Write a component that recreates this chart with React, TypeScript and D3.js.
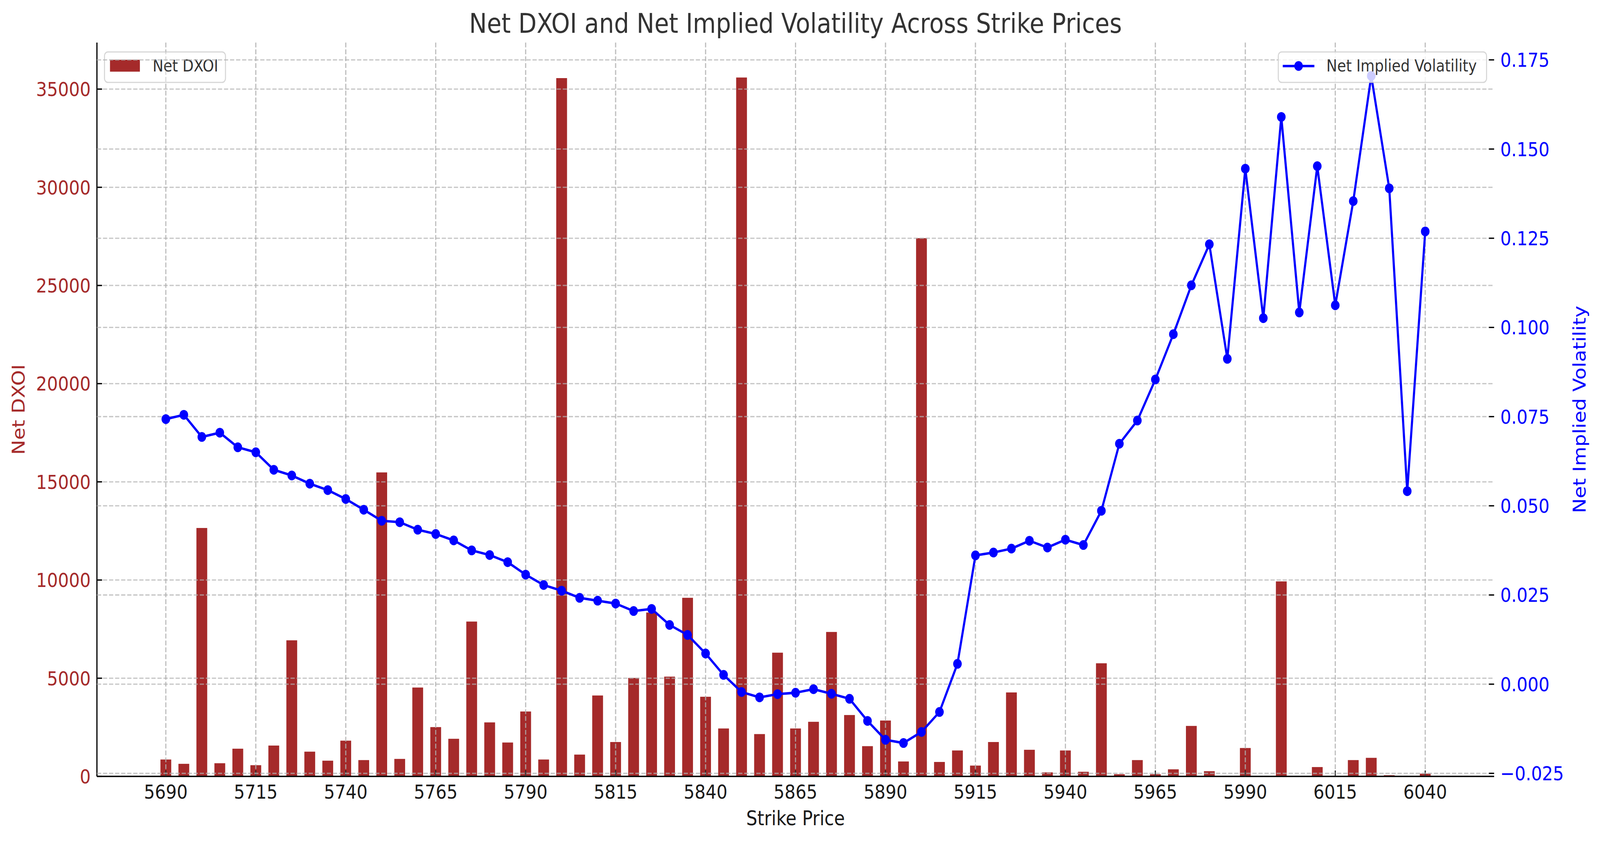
import React from "react";
import * as d3 from "d3";

const strikes = [
  5690, 5695, 5700, 5705, 5710, 5715, 5720, 5725, 5730, 5735,
  5740, 5745, 5750, 5755, 5760, 5765, 5770, 5775, 5780, 5785,
  5790, 5795, 5800, 5805, 5810, 5815, 5820, 5825, 5830, 5835,
  5840, 5845, 5850, 5855, 5860, 5865, 5870, 5875, 5880, 5885,
  5890, 5895, 5900, 5905, 5910, 5915, 5920, 5925, 5930, 5935,
  5940, 5945, 5950, 5955, 5960, 5965, 5970, 5975, 5980, 5985,
  5990, 5995, 6000, 6005, 6010, 6015, 6020, 6025, 6030, 6035, 6040,
];

const netDXOI = [
  860, 640, 12650, 670, 1410, 570, 1570, 6930, 1260, 800,
  1820, 830, 15480, 890, 4525, 2510, 1915, 7885, 2750, 1725,
  3305, 860, 35560, 1110, 4120, 1750, 5015, 8345, 5080, 9095,
  4055, 2440, 35590, 2155, 6300, 2440, 2780, 7355, 3125, 1540,
  2845, 760, 27410, 735, 1320, 550, 1750, 4275, 1355, 205,
  1320, 235, 5760, 110, 830, 110, 360, 2570, 265, 0,
  1445, 0, 9930, 0, 475, 0, 830, 945, 60, 0, 140,
];

const netIV = [
  0.0743, 0.0755, 0.0693, 0.0705, 0.0664, 0.065, 0.0601, 0.0585, 0.0562, 0.0544,
  0.0519, 0.0489, 0.0458, 0.0454, 0.0433, 0.0421, 0.0403, 0.0375, 0.0362, 0.0342,
  0.0307, 0.0278, 0.0262, 0.0242, 0.0234, 0.0226, 0.0205, 0.0211, 0.0166, 0.0138,
  0.0086, 0.0026, -0.0022, -0.0037, -0.0028, -0.0024, -0.0014, -0.0027, -0.0041, -0.0103,
  -0.0156, -0.0165, -0.0134, -0.0078, 0.0057, 0.0361, 0.0369, 0.038, 0.0402, 0.0383,
  0.0405, 0.039, 0.0486, 0.0674, 0.0739, 0.0854, 0.0981, 0.1118, 0.1233, 0.0912,
  0.1445, 0.1026, 0.159, 0.1042, 0.1452, 0.1062, 0.1354, 0.1705, 0.139, 0.0541, 0.1269,
];

const xTicks = [5690, 5715, 5740, 5765, 5790, 5815, 5840, 5865, 5890, 5915, 5940, 5965, 5990, 6015, 6040];
const leftTicks = [0, 5000, 10000, 15000, 20000, 25000, 30000, 35000];
const rightTicks = [-0.025, 0, 0.025, 0.05, 0.075, 0.1, 0.125, 0.15, 0.175];

const W = 4655;
const H = 2156;
const L = 282;
const R = 4347;
const T = 109;
const B = 1988;
const BAR_W = 3;
const FONT = "DejaVu Sans";
const BROWN = "#A52A2A";
const BLUE = "#0000FF";

export default function App() {
  const lo = (d3.min(strikes) as number) - BAR_W / 2;
  const hi = (d3.max(strikes) as number) + BAR_W / 2;
  const xp = (hi - lo) * 0.05;
  const x = d3.scaleLinear().domain([lo - xp, hi + xp]).range([L, R]);
  const y1 = d3.scaleLinear().domain([0, (d3.max(netDXOI) as number) * 1.05]).range([B, T]);
  const ivMin = d3.min(netIV) as number;
  const ivMax = d3.max(netIV) as number;
  const yp = (ivMax - ivMin) * 0.05;
  const y2 = d3.scaleLinear().domain([ivMin - yp, ivMax + yp]).range([B, T]);

  const line = d3
    .line<number>()
    .x((_, i) => x(strikes[i]))
    .y((d) => y2(d));

  const grid = { stroke: "#b0b0b0", strokeWidth: 3.3, strokeOpacity: 0.7, strokeDasharray: "12.3 5.3" };
  const fmtR = (v: number) => (v < 0 ? "\u2212" : "") + Math.abs(v).toFixed(3);

  return (
    <svg
      viewBox={`0 0 ${W} ${H}`}
      preserveAspectRatio="none"
      style={{ position: "fixed", left: 0, top: 0, width: "100vw", height: "100vh", background: "#fff", display: "block" }}
      fontFamily={FONT}
    >
      <rect x={0} y={0} width={W} height={H} fill="#fff" />
      {/* ax1 bars */}
      {netDXOI.map((v, i) => (
        <rect
          key={"b" + i}
          x={x(strikes[i] - BAR_W / 2)}
          y={y1(v)}
          width={x(strikes[i] + BAR_W / 2) - x(strikes[i] - BAR_W / 2)}
          height={B - y1(v)}
          fill={BROWN}
        />
      ))}
      {/* ax1 grid */}
      {xTicks.map((t) => (
        <line key={"gx" + t} x1={x(t)} x2={x(t)} y1={T} y2={B} {...grid} />
      ))}
      {leftTicks.map((t) => (
        <line key={"gy1" + t} x1={L} x2={R} y1={y1(t)} y2={y1(t)} {...grid} />
      ))}
      {/* ax1 spines */}
      <line x1={L} x2={L} y1={T} y2={B} stroke="#000" strokeWidth={3.5} />
      <line x1={L} x2={R} y1={B} y2={B} stroke="#000" strokeWidth={3.5} />
      {/* ax1 ticks */}
      {xTicks.map((t) => (
        <g key={"xt" + t}>
          <line x1={x(t)} x2={x(t)} y1={B} y2={B - 15} stroke="#000" strokeWidth={3.3} />
          <text x={x(t)} y={2045} fontSize={50} textAnchor="middle" fill="#1a1a1a">
            {t}
          </text>
        </g>
      ))}
      {leftTicks.map((t) => (
        <g key={"yt" + t}>
          <line x1={L} x2={L + 15} y1={y1(t)} y2={y1(t)} stroke="#000" strokeWidth={3.3} />
          <text x={264} y={y1(t) + 18} fontSize={50} textAnchor="end" fill={BROWN}>
            {t}
          </text>
        </g>
      ))}
      <text
        transform={`translate(72, ${(T + B) / 2}) rotate(-90)`}
        fontSize={51}
        textAnchor="middle"
        fill={BROWN}
      >
        Net DXOI
      </text>
      <text x={(L + R) / 2} y={2113} fontSize={51} textAnchor="middle" fill="#1a1a1a">
        Strike Price
      </text>
      {/* ax1 legend */}
      <rect x={304} y={133} width={352} height={78} rx={10} fill="#fff" fillOpacity={0.8} stroke="#cccccc" strokeOpacity={0.8} strokeWidth={3} />
      <rect x={320} y={153} width={87} height={30.5} fill={BROWN} />
      <text x={444} y={183} fontSize={42} fill="#333">
        Net DXOI
      </text>

      {/* ax2 grid */}
      {xTicks.map((t) => (
        <line key={"gx2" + t} x1={x(t)} x2={x(t)} y1={T} y2={B} {...grid} strokeOpacity={0.35} />
      ))}
      {rightTicks.map((t) => (
        <line key={"gy2" + t} x1={L} x2={R} y1={y2(t)} y2={y2(t)} {...grid} />
      ))}
      {/* ax2 line */}
      <path d={line(netIV) || ""} fill="none" stroke={BLUE} strokeWidth={6.25} strokeLinejoin="round" />
      {netIV.map((v, i) => (
        <circle key={"m" + i} cx={x(strikes[i])} cy={y2(v)} r={12.5} fill={BLUE} />
      ))}
      {/* ax2 ticks */}
      {rightTicks.map((t) => (
        <g key={"rt" + t}>
          <line x1={R - 15} x2={R} y1={y2(t)} y2={y2(t)} stroke="#000" strokeWidth={3.3} />
          <text x={4365} y={y2(t) + 18} fontSize={50} textAnchor="start" fill={BLUE}>
            {fmtR(t)}
          </text>
        </g>
      ))}
      <text
        transform={`translate(4613, ${(T + B) / 2}) rotate(-90)`}
        fontSize={51}
        textAnchor="middle"
        fill={BLUE}
      >
        Net Implied Volatility
      </text>
      {/* ax2 legend */}
      <rect x={3719} y={133} width={606} height={78} rx={10} fill="#fff" fillOpacity={0.8} stroke="#cccccc" strokeOpacity={0.8} strokeWidth={3} />
      <line x1={3732} x2={3824} y1={169} y2={169} stroke={BLUE} strokeWidth={6.25} />
      <circle cx={3778} cy={169} r={12.5} fill={BLUE} />
      <text x={3859} y={183} fontSize={42} fill="#333">
        Net Implied Volatility
      </text>

      {/* title */}
      <text x={(L + R) / 2} y={84} fontSize={69} textAnchor="middle" fill="#333">
        Net DXOI and Net Implied Volatility Across Strike Prices
      </text>
    </svg>
  );
}
